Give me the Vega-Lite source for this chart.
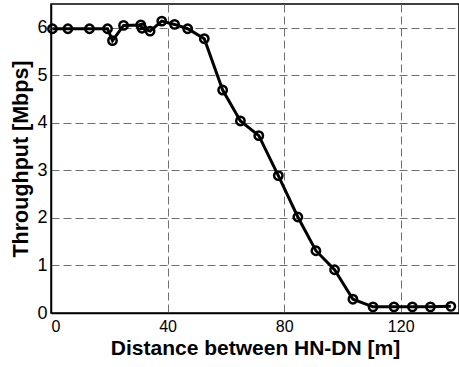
{
  "$schema": "https://vega.github.io/schema/vega-lite/v6.json",
  "width": 408,
  "height": 309,
  "autosize": "none",
  "padding": {"left": 51, "top": 4, "right": 0, "bottom": 54},
  "background": "white",
  "config": {
    "view": {"stroke": "black", "strokeWidth": 1.5},
    "font": "Liberation Sans"
  },
  "data": {
    "values": [
      {"d": 0.5, "t": 5.98},
      {"d": 5.8, "t": 5.98},
      {"d": 13.2, "t": 5.98},
      {"d": 19.4, "t": 5.98},
      {"d": 21.1, "t": 5.73},
      {"d": 24.9, "t": 6.05},
      {"d": 30.8, "t": 6.06},
      {"d": 31.2, "t": 5.99},
      {"d": 34.0, "t": 5.93},
      {"d": 38.0, "t": 6.14},
      {"d": 42.4, "t": 6.07},
      {"d": 46.9, "t": 5.98},
      {"d": 52.6, "t": 5.77},
      {"d": 58.9, "t": 4.69},
      {"d": 65.0, "t": 4.04},
      {"d": 71.3, "t": 3.73},
      {"d": 78.0, "t": 2.89},
      {"d": 84.7, "t": 2.02},
      {"d": 90.9, "t": 1.31},
      {"d": 97.3, "t": 0.91},
      {"d": 103.6, "t": 0.29},
      {"d": 110.5, "t": 0.13},
      {"d": 117.7, "t": 0.13},
      {"d": 124.0, "t": 0.13},
      {"d": 130.2, "t": 0.13},
      {"d": 137.2, "t": 0.14}
    ]
  },
  "encoding": {
    "x": {
      "field": "d",
      "type": "quantitative",
      "scale": {"domain": [0, 140], "nice": false, "zero": false},
      "axis": {
        "title": "Distance between HN-DN [m]",
        "values": [0, 40, 80, 120],
        "grid": true,
        "gridColor": "#707070",
        "gridDash": [8, 4],
        "gridWidth": 1,
        "gridOpacity": 1,
        "domainColor": "black",
        "domainWidth": 1.5,
        "ticks": false,
        "labelFontSize": 16,
        "labelColor": "black",
        "labelPadding": 5,
        "labelFont": "Liberation Sans",
        "titleFont": "Liberation Sans",
        "titleFontSize": 21,
        "titleFontWeight": "bold",
        "titleColor": "black",
        "titlePadding": 3
      }
    },
    "y": {
      "field": "t",
      "type": "quantitative",
      "scale": {"domain": [0, 6.5], "nice": false},
      "axis": {
        "title": "Throughput [Mbps]",
        "values": [0, 1, 2, 3, 4, 5, 6],
        "grid": true,
        "gridColor": "#707070",
        "gridDash": [8, 4],
        "gridWidth": 1,
        "gridOpacity": 1,
        "domainColor": "black",
        "domainWidth": 1.5,
        "ticks": false,
        "labelFontSize": 18,
        "labelColor": "black",
        "labelPadding": 4,
        "labelFont": "Liberation Sans",
        "titleFont": "Liberation Sans",
        "titleFontSize": 21.5,
        "titleFontWeight": "bold",
        "titleColor": "black",
        "titlePadding": 4
      }
    }
  },
  "layer": [
    {"mark": {"type": "line", "color": "black", "strokeWidth": 3}},
    {"mark": {"type": "point", "shape": "circle", "filled": false, "color": "black", "strokeWidth": 2.5, "size": 70, "opacity": 1}}
  ]
}
